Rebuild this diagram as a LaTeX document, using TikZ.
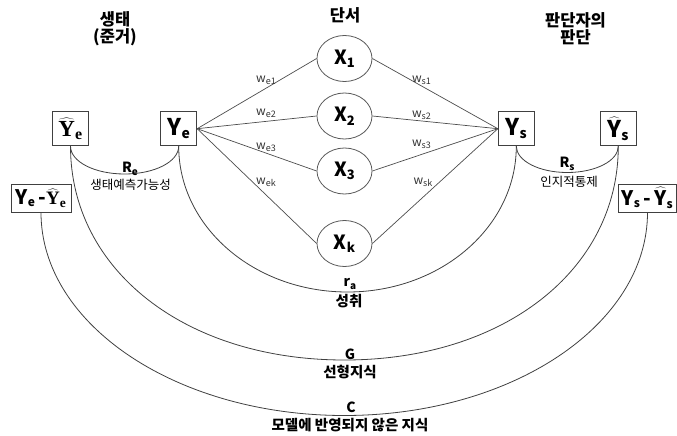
\RequirePackage{fix-cm}
\documentclass[tikz,border=0pt]{standalone}
\usepackage[no-math]{fontspec}
\setmainfont{Noto Sans CJK KR}
\newfontfamily\tms{Liberation Serif}
\usetikzlibrary{shapes.geometric}

% font size helper
\newcommand{\fsz}[1]{\fontsize{#1}{#1}\selectfont}
% bold letter with a lowered subscript: \lowsub{letter}{sub}{size}{drop}
\newcommand{\lowsub}[4]{{\bfseries #1\raisebox{-#4}{\fsz{#3}#2}}}
% serif estimate Y-hat: \serifhat{sub}{letter size}{sub size}
\newcommand{\serifhat}[3]{$\widehat{\hbox{\tms\bfseries\fsz{#2}Y}}_{\hbox{\tms\bfseries\fsz{#3}#1}}$}
% sans estimate Y-hat: \sanshat{sub}{sub size}
\newcommand{\sanshat}[2]{$\widehat{\hbox{\bfseries Y}}_{\hbox{\fsz{#2}\bfseries #1}}$}

\begin{document}
\begin{tikzpicture}[x=1pt,y=1pt,
  varbox/.style={draw=black!75, line width=0.9pt, fill=white, inner sep=0pt,
    minimum width=36pt, minimum height=34pt, font=\fsz{23}\bfseries},
  diffbox/.style={varbox, minimum height=28pt, font=\fsz{20}\bfseries},
  cue/.style={ellipse, draw=black!65, line width=0.8pt, minimum width=55pt,
    minimum height=46pt, inner sep=0pt, font=\fsz{19.5}\bfseries},
  link/.style={draw=black!70, line width=0.7pt},
  lens/.style={draw=black!75, line width=0.8pt},
  wlab/.style={font=\fsz{12}, text=black!80, inner sep=0pt},
  head/.style={font=\fontsize{16.5}{17.5}\selectfont\bfseries, align=center, inner sep=0pt},
  coef/.style={font=\fsz{14}\bfseries, inner sep=0pt},
  note/.style={font=\fsz{12.5}, inner sep=0pt},
  lenscap/.style={font=\fsz{14.5}\bfseries, inner sep=0pt}]

\useasboundingbox (0,0) rectangle (677,-436);

% column headings
\node[head] (hEco) at (115,-28.5) {생태\\(준거)};
\node[head] (hCue) at (345,-15) {단서};
\node[head] (hJud) at (575.5,-28.5) {판단자의\\판단};

% criterion and judgment boxes
\node[varbox] (yeh) at (70.5,-128.7) {\fsz{23}\serifhat{e}{23}{16}};
\node[varbox] (ye)  at (178.7,-128.7) {\lowsub{Y}{e}{14}{2.5pt}};
\node[varbox] (ys)  at (516.3,-128.7) {\lowsub{Y}{s}{14}{2.5pt}};
\node[varbox] (ysh) at (618.3,-128.7) {\fsz{23}\sanshat{s}{14}};

\node[diffbox, minimum width=60pt] (ed) at (41,-198)
  {\lowsub{Y}{e}{12}{2pt}\,-\fsz{19}\serifhat{e}{19}{13.5}};
\node[diffbox, minimum width=58pt] (sd) at (647.5,-198)
  {\lowsub{Y}{s}{12}{2pt}\,-\,\fsz{20}\sanshat{s}{12}};

% cues
\node[cue] (x1) at (344.5,-58.5) {\lowsub{X}{1}{13}{3.5pt}};
\node[cue] (x2) at (344.5,-116)  {\lowsub{X}{2}{13}{3.5pt}};
\node[cue] (x3) at (344.5,-171)  {\lowsub{X}{3}{13}{3.5pt}};
\node[cue] (xk) at (344.5,-243.5){\lowsub{X}{k}{13}{3.5pt}};

% cue weights
\foreach \c in {x1,x2,x3,xk} {
  \draw[link] (ye.east) -- (\c.west);
  \draw[link] (ys.west) -- (\c.east);
}
\node[wlab] (we1) at (266,-80)  {w\raisebox{-2pt}{\fsz{9}e1}};
\node[wlab] (we2) at (266,-113) {w\raisebox{-2pt}{\fsz{9}e2}};
\node[wlab] (we3) at (266,-147) {w\raisebox{-2pt}{\fsz{9}e3}};
\node[wlab] (wek) at (266,-182) {w\raisebox{-2pt}{\fsz{9}ek}};
\node[wlab] (ws1) at (421.5,-80)  {w\raisebox{-2pt}{\fsz{9}s1}};
\node[wlab] (ws2) at (421.5,-115) {w\raisebox{-2pt}{\fsz{9}s2}};
\node[wlab] (ws3) at (421.5,-144) {w\raisebox{-2pt}{\fsz{9}s3}};
\node[wlab] (wsk) at (423,-182)   {w\raisebox{-2pt}{\fsz{9}sk}};

% lowest points of the lens arcs
\coordinate (reBot) at (124.6,-174);
\coordinate (rsBot) at (567.3,-172.5);
\coordinate (raBot) at (347.5,-292);
\coordinate (gBot)  at (344.4,-360);
\coordinate (cBot)  at (344.3,-415.5);

% lens arcs
\draw[lens] (yeh.south) to[out=-90,in=180,out distance=15.6pt,in distance=30pt] (reBot)
  to[out=0,in=-90,out distance=30pt,in distance=15.6pt] (ye.south);
\draw[lens] (ys.south) to[out=-90,in=180,out distance=14.7pt,in distance=28.2pt] (rsBot)
  to[out=0,in=-90,out distance=28.2pt,in distance=14.7pt] (ysh.south);
\draw[lens] (ye.south) to[out=-90,in=180,out distance=80.8pt,in distance=93.2pt] (raBot)
  to[out=0,in=-90,out distance=93.2pt,in distance=80.8pt] (ys.south);
\draw[lens] (yeh.south) to[out=-90,in=180,out distance=124pt,in distance=159pt] (gBot)
  to[out=0,in=-90,out distance=159pt,in distance=124pt] (ysh.south);
\draw[lens] (ed.south) to[out=-90,in=180,out distance=112.3pt,in distance=167.5pt] (cBot)
  to[out=0,in=-90,out distance=167.5pt,in distance=112.3pt] (sd.south);

% lens labels
\node[coef] (reL) at (130,-169) {R\raisebox{-2.5pt}{\fsz{10}e}};
\node[note] (reN) at (130.5,-185) {생태예측가능성};
\node[coef] (rsL) at (567,-164) {R\raisebox{-2.5pt}{\fsz{10}s}};
\node[note] (rsN) at (569,-182) {인지적통제};
\node[coef] (raL) at (350,-284) {r\raisebox{-2.5pt}{\fsz{10}a}};
\node[lenscap]  (raN) at (349,-301) {성취};
\node[coef] (gL)  at (350,-354) {G};
\node[lenscap]  (gN)  at (350,-372) {선형지식};
\node[coef] (cL)  at (351,-407) {C};
\node[lenscap]  (cN)  at (350,-425) {모델에 반영되지 않은 지식};

\end{tikzpicture}
\end{document}
